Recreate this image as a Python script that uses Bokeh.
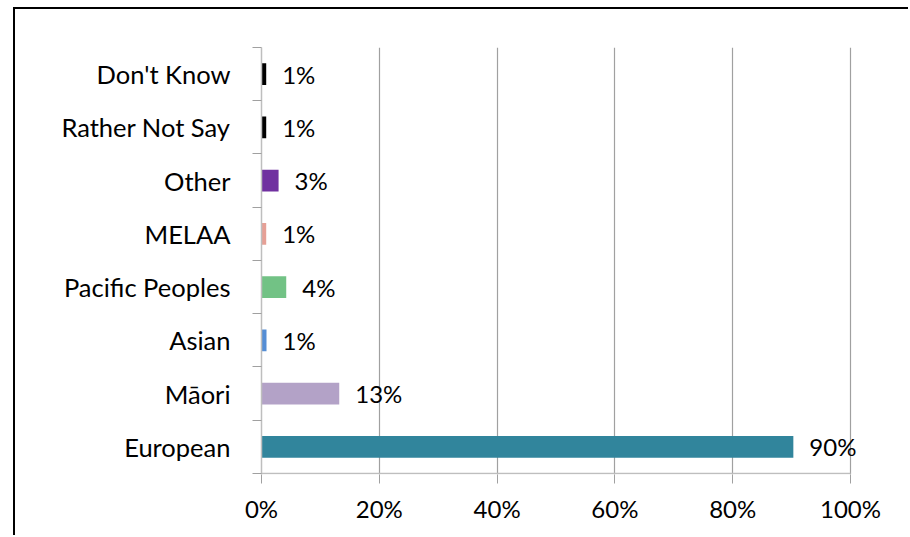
from bokeh.plotting import figure
from bokeh.models import Range1d, FixedTicker, ColumnDataSource, NumeralTickFormatter, LabelSet
from bokeh.core.properties import value
from bokeh.embed import file_html
from bokeh.resources import INLINE

categories = ["European", "Māori", "Asian", "Pacific Peoples", "MELAA", "Other", "Rather Not Say", "Don't Know"]
values = [90.3, 13.2, 0.85, 4.2, 0.8, 2.9, 0.8, 0.8]
labels = ["90%", "13%", "1%", "4%", "1%", "3%", "1%", "1%"]
colors = ["#31859C", "#B3A2C7", "#558ED5", "#72C285", "#E6A096", "#7030A0", "#000000", "#000000"]
x_ticks = [0, 20, 40, 60, 80, 100]

FONT = "Lato"
FS_CAT = "25.5px"
FS_NUM = "24px"

n = len(categories)
centers = [i + 0.5 for i in range(n)]
src = ColumnDataSource(dict(y=centers, v=values, lab=labels, col=colors))

# frame extends a little past 100% so the "90%" label is not clipped
p = figure(width=895, height=528, x_range=Range1d(0, 103.4), y_range=Range1d(-0.02, n),
           output_backend="svg", toolbar_location=None,
           min_border_left=246, min_border_right=40, min_border_top=38, min_border_bottom=63)
p.styles = {"border-top": "2px solid black", "border-left": "2px solid black",
            "margin-left": "13px", "margin-top": "7px"}
p.outline_line_color = None
p.background_fill_color = "white"
p.border_fill_color = "white"

p.xgrid.ticker = FixedTicker(ticks=x_ticks[1:])
p.xgrid.grid_line_color = "#A0A0A0"
p.xgrid.grid_line_width = 1.2
p.ygrid.grid_line_color = None

# baseline of the value axis, from 0% to 100%
p.segment(x0=[x_ticks[0]], x1=[x_ticks[-1]], y0=[0], y1=[0], line_color="#BEBEBE", line_width=1.5)

p.hbar(y="y", left=0, right="v", height=0.41, color="col", line_color=None, source=src)
p.add_layout(LabelSet(x="v", y="y", text="lab", source=src, x_offset=16, text_align="left",
                      text_baseline="middle", text_font=value(FONT), text_font_size=value(FS_NUM),
                      text_color="#000000"))

# x axis
p.xaxis.ticker = FixedTicker(ticks=x_ticks)
p.xaxis.formatter = NumeralTickFormatter(format="0")
p.xaxis.major_label_overrides = {t: f"{t}%" for t in x_ticks}
p.xaxis.axis_line_color = None
p.xaxis.major_tick_line_color = "#A0A0A0"
p.xaxis.major_tick_out = 9
p.xaxis.major_tick_in = 0
p.xaxis.minor_tick_line_color = None
p.xaxis.major_label_text_font = FONT
p.xaxis.major_label_text_font_size = FS_NUM
p.xaxis.major_label_text_color = "#000000"
p.xaxis.major_label_standoff = 10

# y axis
p.yaxis.ticker = FixedTicker(ticks=centers, minor_ticks=list(range(n + 1)))
p.yaxis.major_label_overrides = {c: cat for c, cat in zip(centers, categories)}
p.yaxis.axis_line_color = "#BEBEBE"
p.yaxis.axis_line_width = 1.5
p.yaxis.major_tick_line_color = None
p.yaxis.major_tick_out = 0
p.yaxis.major_tick_in = 0
p.yaxis.minor_tick_line_color = "#A0A0A0"
p.yaxis.minor_tick_out = 9
p.yaxis.minor_tick_in = 0
p.yaxis.major_label_text_font = FONT
p.yaxis.major_label_text_font_size = FS_CAT
p.yaxis.major_label_text_color = "#000000"
p.yaxis.major_label_standoff = 22

open("out.html", "w").write(file_html(p, INLINE))
